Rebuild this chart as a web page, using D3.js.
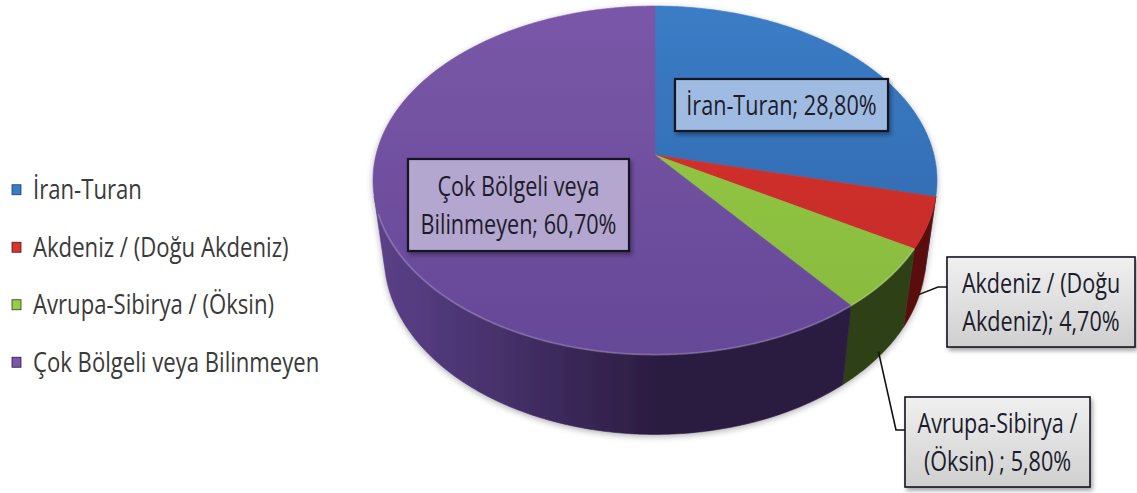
<!DOCTYPE html>
<meta charset="utf-8">
<style>
body { margin: 0; background: #fff; }
svg { display: block; }
.legend text { font: 27px "Open Sans", sans-serif; fill: #3a3a3a; }
.lbl text { font: 27px "Open Sans", sans-serif; fill: #1c1c2c; text-anchor: middle; }
</style>
<svg width="1137" height="493"></svg>
<script src="https://cdn.jsdelivr.net/npm/d3@7"></script>
<script>

// data
var categories = ["İran-Turan", "Akdeniz / (Doğu Akdeniz)", "Avrupa-Sibirya / (Öksin)", "Çok Bölgeli veya Bilinmeyen"];
var values = [28.8, 4.7, 5.8, 60.7];
var labelLines = [
  ["İran-Turan; 28,80%"],
  ["Akdeniz / (Doğu", "Akdeniz); 4,70%"],
  ["Avrupa-Sibirya /", "(Öksin) ; 5,80%"],
  ["Çok Bölgeli veya", "Bilinmeyen; 60,70%"]
];

// colours: top light, top dark, side light, side dark
var topCols  = [["#3b7cc6", "#2d64a8"], ["#d8342f", "#c22a26"], ["#98cc48", "#86b93c"], ["#7a57a8", "#654897"]];
var sideCols = [["#2c5a94", "#1d3e6a"], ["#8e2020", "#5a1010"], ["#45602a", "#2d3f18"], ["#5c418b", "#2a1c40"]];
var boxFill  = ["#a0bbe1", "gray", "gray", "#b3a6cf"];

var svg = d3.select("svg");
var defs = svg.append("defs");

// 3d projection of the pie
var elev = 37.7 * Math.PI / 180,
    D = 5.44, k = 279, cx = 655, cy = 155, depth = 0.36;

function proj(X, Y, Z) {
  var yc = Y * Math.sin(elev) - Z * Math.cos(elev);
  var zc = Y * Math.cos(elev) + Z * Math.sin(elev);
  var s = D / (D - zc);
  return [cx + k * X * s, cy + k * yc * s];
}
function rim(a, Z) { return proj(Math.sin(a), -Math.cos(a), Z); }
function arcPts(a0, a1, Z) {
  var n = Math.max(2, Math.ceil((a1 - a0) / 0.01)), pts = [];
  for (var i = 0; i <= n; i++) pts.push(rim(a0 + (a1 - a0) * i / n, Z));
  return pts;
}

var arcs = d3.pie().sort(null).value(function(d) { return d; })(values);
var line = d3.line();

// visible part of the outer wall
var t = 1 / (D * Math.cos(elev));
var visA = Math.acos(-t), visB = 2 * Math.PI - Math.acos(-t);

arcs.forEach(function(d, i) {
  var g1 = defs.append("linearGradient").attr("id", "side" + i)
    .attr("gradientUnits", "userSpaceOnUse").attr("x1", 372).attr("x2", 900).attr("y1", 0).attr("y2", 0);
  g1.append("stop").attr("offset", 0).attr("stop-color", sideCols[i][0]);
  g1.append("stop").attr("offset", 0.55).attr("stop-color", sideCols[i][1]);
  g1.append("stop").attr("offset", 1).attr("stop-color", sideCols[i][1]);
  var g2 = defs.append("linearGradient").attr("id", "top" + i)
    .attr("gradientUnits", "userSpaceOnUse").attr("x1", 0).attr("x2", 0).attr("y1", 8).attr("y2", 355);
  g2.append("stop").attr("offset", 0).attr("stop-color", topCols[i][0]);
  g2.append("stop").attr("offset", 1).attr("stop-color", topCols[i][1]);
});

var shadow = defs.append("filter").attr("id", "shadow").attr("x", "-10%").attr("y", "-10%").attr("width", "130%").attr("height", "140%");
shadow.append("feDropShadow").attr("dx", 2).attr("dy", 3).attr("stdDeviation", 2).attr("flood-opacity", 0.35);
var pieShadow = defs.append("filter").attr("id", "pieshadow").attr("x", "-10%").attr("y", "-10%").attr("width", "120%").attr("height", "130%");
pieShadow.append("feDropShadow").attr("dx", 0).attr("dy", 2).attr("stdDeviation", 3).attr("flood-opacity", 0.3);

var grayGrad = defs.append("linearGradient").attr("id", "grayBox").attr("x1", 0).attr("x2", 0).attr("y1", 0).attr("y2", 1);
grayGrad.append("stop").attr("offset", 0).attr("stop-color", "#f0f0f0");
grayGrad.append("stop").attr("offset", 1).attr("stop-color", "#cfcfcf");

var pie = svg.append("g").attr("filter", "url(#pieshadow)");

// walls
arcs.forEach(function(d, i) {
  var a0 = Math.max(d.startAngle, visA), a1 = Math.min(d.endAngle, visB);
  if (a1 <= a0) return;
  var pts = arcPts(a0, a1, 0).concat(arcPts(a0, a1, -depth).reverse());
  pie.append("path").attr("d", line(pts) + "Z")
    .attr("fill", "url(#side" + i + ")")
    .attr("stroke", "url(#side" + i + ")").attr("stroke-width", 0.6);
});

// tops
arcs.forEach(function(d, i) {
  var pts = [proj(0, 0, 0)].concat(arcPts(d.startAngle, d.endAngle, 0));
  pie.append("path").attr("d", line(pts) + "Z")
    .attr("fill", "url(#top" + i + ")")
    .attr("stroke", "url(#top" + i + ")").attr("stroke-width", 0.6);
});

// soft bevel along the front edge
pie.append("path").attr("d", line(arcPts(visA + 0.3, visB - 0.1, 0)))
  .attr("fill", "none").attr("stroke", "rgba(255,255,255,0.18)").attr("stroke-width", 2);

// labels
var boxes = [
  { x: 675, y: 79, w: 213, h: 52 },
  { x: 947, y: 257, w: 188, h: 90, lead: 287 },
  { x: 905, y: 397, w: 185, h: 90, lead: 430 },
  { x: 408, y: 159, w: 221, h: 92 }
];

arcs.forEach(function(d, i) {
  var b = boxes[i];
  if (b.lead) {
    var mid = (d.startAngle + d.endAngle) / 2;
    var p = rim(mid, -depth * 0.92);
    svg.append("path")
      .attr("d", line([p, [b.x - 9, b.lead], [b.x, b.lead]]))
      .attr("fill", "none").attr("stroke", "#111").attr("stroke-width", 1.6);
  }
  var g = svg.append("g").attr("class", "lbl");
  g.append("rect").attr("x", b.x).attr("y", b.y).attr("width", b.w).attr("height", b.h)
    .attr("fill", boxFill[i] === "gray" ? "url(#grayBox)" : boxFill[i])
    .attr("stroke", "#141420").attr("stroke-width", boxFill[i] === "gray" ? 1.6 : 2.2)
    .attr("filter", "url(#shadow)");
  var lines = labelLines[i], lh = 38;
  var tg = g.append("g")
    .attr("transform", "translate(" + (b.x + b.w / 2) + "," + (b.y + b.h / 2) + ") scale(0.8,1)");
  lines.forEach(function(s, j) {
    tg.append("text")
      .attr("y", (j - (lines.length - 1) / 2) * lh)
      .attr("dy", "0.36em")
      .text(s);
  });
});

// legend
var legend = svg.append("g").attr("class", "legend");
var ly = d3.scaleBand().domain(categories).range([161, 391]);
categories.forEach(function(c, i) {
  var y = ly(c) + ly.bandwidth() / 2;
  legend.append("rect").attr("x", 12).attr("y", y - 5).attr("width", 9).attr("height", 10)
    .attr("fill", topCols[i][0]).attr("stroke", sideCols[i][1]).attr("stroke-width", 0.8);
  legend.append("text").attr("dy", "0.35em")
    .attr("transform", "translate(33," + y + ") scale(0.82,1)")
    .text(c);
});

</script>
